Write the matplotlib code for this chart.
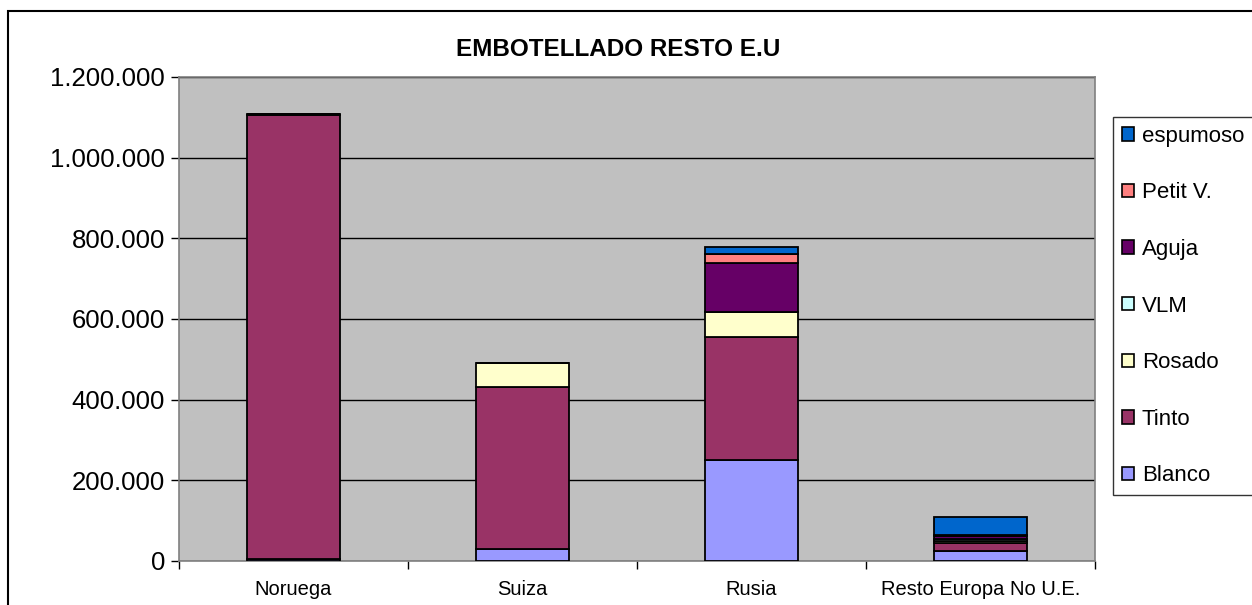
import numpy as np
import matplotlib
matplotlib.use("Agg")
import matplotlib.pyplot as plt
from matplotlib.patches import Rectangle
from matplotlib.ticker import FuncFormatter, FixedLocator

plt.rcParams['font.family'] = ['Liberation Sans', 'DejaVu Sans']

paises = ['Noruega', 'Suiza', 'Rusia', 'Resto Europa No U.E.']
series = ['Blanco', 'Tinto', 'Rosado', 'VLM', 'Aguja', 'Petit V.', 'espumoso']
colores = ['#9999FF', '#993366', '#FFFFCC', '#CCFFFF', '#660066', '#FF8080', '#0066CC']

blanco = [6000, 29000, 250000, 26000]
tinto = [1099000, 402000, 305000, 19000]
rosado = [0, 61000, 62000, 5000]
vlm = [0, 0, 0, 5000]
aguja = [4000, 0, 122000, 6000]
petit = [0, 0, 22000, 4000]
espumoso = [0, 0, 17000, 43000]

valores = [blanco, tinto, rosado, vlm, aguja, petit, espumoso]

fig = plt.figure(figsize=(12.52, 6.05), dpi=100)
fig.patches.append(Rectangle((8 / 1252, -0.1), 1.2, 1 - 11 / 605 + 0.1,
                             transform=fig.transFigure, fill=False,
                             edgecolor='black', linewidth=1.5))

ax = fig.add_axes([179 / 1252, 1 - 561 / 605, 916 / 1252, 484 / 605])
ax.set_facecolor('#C0C0C0')

x = np.arange(len(paises))
base = np.zeros(len(paises))
for nombre, vals, col in zip(series, valores, colores):
    ax.bar(x, vals, 0.406, bottom=base, color=col, edgecolor='black',
           linewidth=1.3, label=nombre, zorder=3)
    base += np.array(vals)

ax.set_xlim(-0.5, 3.5)
ax.set_ylim(0, 1200000)
ax.set_yticks(np.arange(0, 1200001, 200000))
ax.yaxis.set_major_formatter(FuncFormatter(lambda v, p: f"{int(v):,}".replace(",", ".")))
ax.grid(axis='y', color='black', linewidth=1, zorder=0)
ax.tick_params(axis='y', labelsize=18.5, length=6, width=1, direction='out', pad=4)

ax.set_xticks(x)
ax.set_xticklabels(paises)
ax.xaxis.set_minor_locator(FixedLocator([-0.5, 0.5, 1.5, 2.5, 3.5]))
ax.tick_params(axis='x', which='major', length=0, labelsize=14.5, pad=14)
ax.tick_params(axis='x', which='minor', length=6, width=1, direction='out')

for s in ax.spines.values():
    s.set_color('#808080')
    s.set_linewidth(1.2)

ax.set_title('EMBOTELLADO RESTO E.U', fontsize=17.5, fontweight='bold', pad=15,
             x=(618 - 179) / 916)

handles = [Rectangle((0, 0), 1, 1, facecolor=c, edgecolor='black', linewidth=1.2)
           for c in colores][::-1]
leg = fig.legend(handles, series[::-1], loc='upper left',
                 bbox_to_anchor=(1113 / 1252, 1 - 117 / 605),
                 fontsize=16, frameon=True, fancybox=False, edgecolor='black',
                 handlelength=0.55, handleheight=0.55, handletextpad=0.35,
                 labelspacing=1.6, borderpad=0.4, borderaxespad=0)
leg.get_frame().set_linewidth(1)

fig.savefig('out.png', dpi=100)
